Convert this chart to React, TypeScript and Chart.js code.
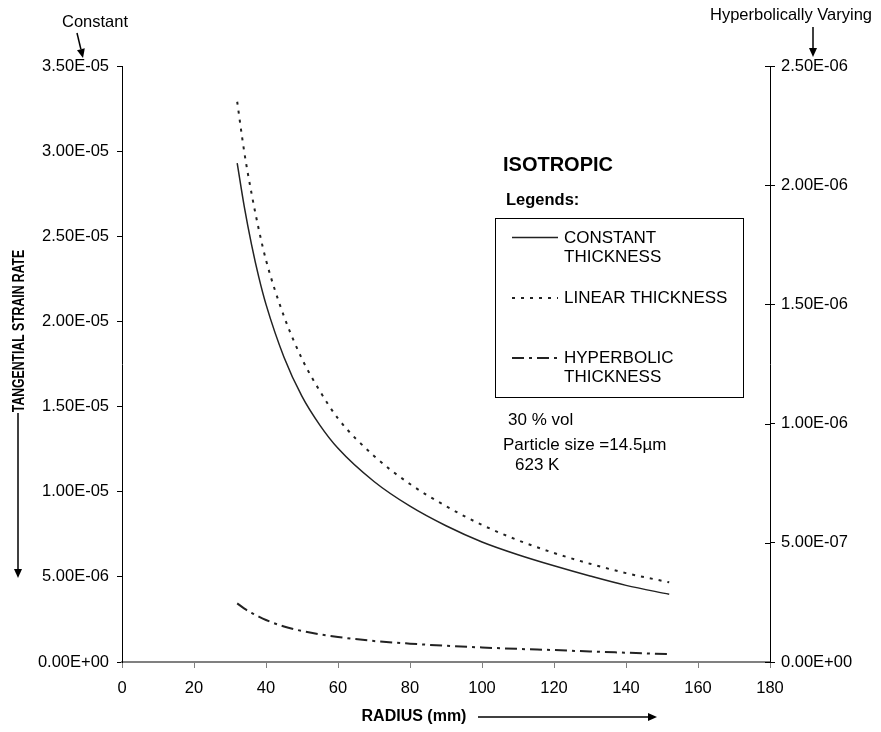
import React, { useEffect, useRef } from "react";
import { Chart, registerables } from "chart.js";

Chart.register(...registerables);

// Radius (mm) at which each strain rate was evaluated
const RADIUS_MM = [32, 34, 36, 38, 40, 45, 50, 55, 60, 70, 80, 90, 100, 110, 120, 130, 140, 152];

// Tangential strain rate, left axis (constant & linear thickness)
const CONSTANT_THICKNESS = [
  2.93e-5, 2.67e-5, 2.45e-5, 2.26e-5, 2.1e-5, 1.79e-5, 1.56e-5, 1.39e-5, 1.255e-5,
  1.06e-5, 9.15e-6, 8.0e-6, 7.05e-6, 6.3e-6, 5.65e-6, 5.05e-6, 4.5e-6, 3.98e-6,
];
const LINEAR_THICKNESS = [
  3.29e-5, 2.99e-5, 2.75e-5, 2.54e-5, 2.36e-5, 2.03e-5, 1.78e-5, 1.59e-5, 1.43e-5,
  1.21e-5, 1.045e-5, 9.15e-6, 8.05e-6, 7.15e-6, 6.4e-6, 5.77e-6, 5.22e-6, 4.68e-6,
];
// Tangential strain rate, right axis (hyperbolically varying thickness)
const HYPERBOLIC_THICKNESS = [
  2.46e-7, 2.24e-7, 2.06e-7, 1.9e-7, 1.76e-7, 1.49e-7, 1.3e-7, 1.16e-7, 1.05e-7,
  8.8e-8, 7.7e-8, 6.8e-8, 6.1e-8, 5.5e-8, 5.0e-8, 4.4e-8, 3.9e-8, 3.3e-8,
];

// Axis ranges and tick spacing
const X_MIN = 0;
const X_MAX = 180;
const X_STEP = 20;
const LEFT_MAX = 3.5e-5;
const LEFT_STEP = 5e-6;
const RIGHT_MAX = 2.5e-6;
const RIGHT_STEP = 5e-7;

const FONT = '"Liberation Sans", Arial, Helvetica, sans-serif';
const INK = "#000";
const CURVE = "#222";

const DASH_LINEAR = [3, 6];
const DASH_HYPERBOLIC = [12, 5, 3, 5];

// 3.5e-5 -> "3.50E-05"
const sci = (v: number): string => {
  const [m, e] = Number(v).toExponential(2).split("e");
  const n = parseInt(e, 10);
  return `${m}E${n < 0 ? "-" : "+"}${String(Math.abs(n)).padStart(2, "0")}`;
};

const arrow = (
  ctx: CanvasRenderingContext2D,
  x1: number,
  y1: number,
  x2: number,
  y2: number,
  len = 9,
  half = 4
) => {
  const a = Math.atan2(y2 - y1, x2 - x1);
  const bx = x2 - len * Math.cos(a);
  const by = y2 - len * Math.sin(a);
  ctx.beginPath();
  ctx.moveTo(x1, y1);
  ctx.lineTo(bx, by);
  ctx.stroke();
  ctx.beginPath();
  ctx.moveTo(x2, y2);
  ctx.lineTo(bx + half * Math.sin(a), by - half * Math.cos(a));
  ctx.lineTo(bx - half * Math.sin(a), by + half * Math.cos(a));
  ctx.closePath();
  ctx.fill();
};

const decorations = {
  id: "decorations",
  afterDraw(chart: any) {
    const ctx: CanvasRenderingContext2D = chart.ctx;
    const { right } = chart.chartArea;
    ctx.save();
    ctx.fillStyle = INK;
    ctx.strokeStyle = INK;
    ctx.lineWidth = 1;

    // right axis ticks cross the axis line
    const y2 = chart.scales.y2;
    y2.ticks.forEach((t: any) => {
      const py = Math.round(y2.getPixelForValue(t.value)) + 0.5;
      ctx.beginPath();
      ctx.moveTo(right - 5, py);
      ctx.lineTo(right, py);
      ctx.stroke();
    });

    // axis captions with pointers
    ctx.textBaseline = "middle";
    ctx.textAlign = "center";
    ctx.font = `16.5px ${FONT}`;
    ctx.fillText("Constant", 95, 22);
    ctx.lineWidth = 1.5;
    arrow(ctx, 77, 33, 83, 58);
    ctx.fillText("Hyperbolically Varying", 791, 15);
    arrow(ctx, 813, 27, 813, 57);

    // y title, rotated, with a downward arrow
    ctx.save();
    ctx.translate(18, 331);
    ctx.rotate(-Math.PI / 2);
    ctx.scale(0.74, 1);
    ctx.font = `bold 16.5px ${FONT}`;
    ctx.fillText("TANGENTIAL STRAIN RATE", 0, 1);
    ctx.restore();
    arrow(ctx, 18, 413, 18, 578);

    // x title with a rightward arrow
    ctx.font = `bold 16px ${FONT}`;
    ctx.fillText("RADIUS (mm)", 414, 717);
    arrow(ctx, 478, 717, 657, 717);

    // heading and legend
    ctx.textAlign = "left";
    ctx.font = `bold 20px ${FONT}`;
    ctx.fillText("ISOTROPIC", 503, 165);
    ctx.font = `bold 16.5px ${FONT}`;
    ctx.fillText("Legends:", 506, 200);

    ctx.lineWidth = 1;
    ctx.strokeRect(495.5, 218.5, 248, 179);

    ctx.font = `17px ${FONT}`;
    ctx.fillText("CONSTANT", 564, 238);
    ctx.fillText("THICKNESS", 564, 257);
    ctx.fillText("LINEAR THICKNESS", 564, 298);
    ctx.fillText("HYPERBOLIC", 564, 358);
    ctx.fillText("THICKNESS", 564, 377);

    ctx.strokeStyle = CURVE;
    ctx.lineWidth = 1.5;
    const sample = (y: number, dash: number[]) => {
      ctx.setLineDash(dash);
      ctx.beginPath();
      ctx.moveTo(512, y);
      ctx.lineTo(558, y);
      ctx.stroke();
    };
    sample(237.5, []);
    ctx.lineWidth = 2;
    sample(298, DASH_LINEAR);
    sample(358, DASH_HYPERBOLIC);
    ctx.setLineDash([]);

    // test conditions
    ctx.fillText("30 % vol", 508, 420);
    ctx.fillText("Particle size =14.5µm", 503, 445);
    ctx.fillText("623 K", 515, 465);

    ctx.restore();
  },
};

export default function App() {
  const canvasRef = useRef<HTMLCanvasElement | null>(null);

  useEffect(() => {
    if (!canvasRef.current) return;
    const points = (ys: number[]) => RADIUS_MM.map((x, i) => ({ x, y: ys[i] }));
    const tickFont = { family: FONT, size: 16.5 };

    const chart = new Chart(canvasRef.current, {
      type: "line",
      data: {
        datasets: [
          {
            label: "CONSTANT THICKNESS",
            data: points(CONSTANT_THICKNESS),
            yAxisID: "y",
            borderColor: CURVE,
            borderWidth: 1.5,
            pointRadius: 0,
            cubicInterpolationMode: "monotone",
            fill: false,
          },
          {
            label: "LINEAR THICKNESS",
            data: points(LINEAR_THICKNESS),
            yAxisID: "y",
            borderColor: CURVE,
            borderWidth: 2,
            borderDash: DASH_LINEAR,
            pointRadius: 0,
            cubicInterpolationMode: "monotone",
            fill: false,
          },
          {
            label: "HYPERBOLIC THICKNESS",
            data: points(HYPERBOLIC_THICKNESS),
            yAxisID: "y2",
            borderColor: CURVE,
            borderWidth: 2,
            borderDash: DASH_HYPERBOLIC,
            pointRadius: 0,
            cubicInterpolationMode: "monotone",
            fill: false,
          },
        ],
      },
      options: {
        animation: false,
        responsive: false,
        events: [],
        layout: { padding: { top: 66, left: 0, right: 0, bottom: 0 } },
        plugins: { legend: { display: false }, tooltip: { enabled: false } },
        scales: {
          x: {
            type: "linear",
            min: X_MIN,
            max: X_MAX,
            ticks: { stepSize: X_STEP, color: INK, font: tickFont, padding: 11 },
            grid: { drawOnChartArea: false, tickLength: 6, color: "#808080", lineWidth: 1 },
            border: { color: "#808080", width: 2 },
            afterFit: (s: any) => {
              s.height = 70;
            },
          },
          y: {
            position: "left",
            min: 0,
            max: LEFT_MAX,
            ticks: { stepSize: LEFT_STEP, color: INK, font: tickFont, padding: 8, callback: (v: any) => sci(v) },
            grid: { drawOnChartArea: false, tickLength: 5, color: INK, lineWidth: 1 },
            border: { color: INK, width: 1 },
            afterFit: (s: any) => {
              s.width = 122;
            },
          },
          y2: {
            position: "right",
            min: 0,
            max: RIGHT_MAX,
            ticks: { stepSize: RIGHT_STEP, color: INK, font: tickFont, padding: 6, callback: (v: any) => sci(v) },
            grid: { drawOnChartArea: false, tickLength: 5, color: INK, lineWidth: 1 },
            border: { color: INK, width: 1 },
            afterFit: (s: any) => {
              s.width = 111;
            },
          },
        },
      },
      plugins: [decorations],
    } as any);

    return () => chart.destroy();
  }, []);

  return (
    <div style={{ position: "fixed", left: 0, top: 0, width: 881, height: 732, background: "#fff" }}>
      <canvas ref={canvasRef} width={881} height={732} style={{ display: "block" }} />
    </div>
  );
}
